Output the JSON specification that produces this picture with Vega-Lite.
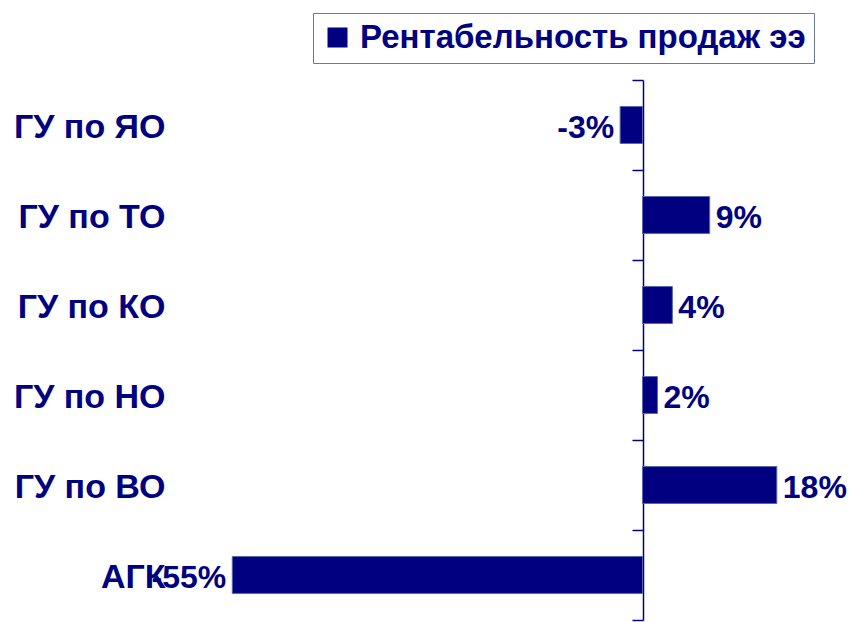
{
  "$schema": "https://vega.github.io/schema/vega-lite/v6.json",
  "autosize": {"type": "none"},
  "padding": {"left": 195, "top": 80, "right": 22, "bottom": 2},
  "width": 634,
  "height": 540,
  "background": "white",
  "config": {"view": {"stroke": null}, "font": "Liberation Sans"},
  "data": {
    "values": [
      {"name": "ГУ по ЯО", "value": -0.03, "label": "-3%", "series": "Рентабельность продаж ээ"},
      {"name": "ГУ по ТО", "value": 0.09, "label": "9%", "series": "Рентабельность продаж ээ"},
      {"name": "ГУ по КО", "value": 0.04, "label": "4%", "series": "Рентабельность продаж ээ"},
      {"name": "ГУ по НО", "value": 0.02, "label": "2%", "series": "Рентабельность продаж ээ"},
      {"name": "ГУ по ВО", "value": 0.18, "label": "18%", "series": "Рентабельность продаж ээ"},
      {"name": "АГК", "value": -0.55, "label": "-55%", "series": "Рентабельность продаж ээ"}
    ]
  },
  "encoding": {
    "y": {
      "field": "name",
      "type": "nominal",
      "sort": null,
      "scale": {"paddingInner": 0, "paddingOuter": 0},
      "axis": {
        "title": null,
        "offset": -448,
        "domainColor": "#000080",
        "domainWidth": 1.5,
        "tickColor": "#000080",
        "tickWidth": 1.5,
        "tickSize": 11,
        "tickBand": "extent",
        "labelPadding": 467,
        "labelOffset": 2,
        "labelFontSize": 34,
        "labelFontWeight": "bold",
        "labelColor": "#000080",
        "labelFont": "Liberation Sans",
        "labelLimit": 0
      }
    },
    "x": {
      "field": "value",
      "type": "quantitative",
      "scale": {"domain": [-0.6, 0.25], "nice": false},
      "axis": null
    }
  },
  "layer": [
    {
      "mark": {"type": "bar", "height": {"band": 0.41}, "stroke": "#5566aa", "strokeWidth": 1},
      "encoding": {
        "color": {
          "field": "series",
          "type": "nominal",
          "scale": {"range": ["#000080"]},
          "legend": {
            "title": null,
            "orient": "none",
            "legendX": 118,
            "legendY": -67,
            "symbolType": "square",
            "symbolSize": 400,
            "symbolStrokeWidth": 0,
            "labelFontSize": 33,
            "labelFontWeight": "bold",
            "labelColor": "#000080",
            "labelFont": "Liberation Sans",
            "labelLimit": 0,
            "labelOffset": 6,
            "strokeColor": "#6a7a9a",
            "padding": 8
          }
        }
      }
    },
    {
      "transform": [{"filter": "datum.value >= 0"}],
      "mark": {"type": "text", "align": "left", "baseline": "middle", "dx": 6, "dy": 3, "fontSize": 32, "fontWeight": "bold", "color": "#000080"},
      "encoding": {"text": {"field": "label", "type": "nominal"}}
    },
    {
      "transform": [{"filter": "datum.value < 0"}],
      "mark": {"type": "text", "align": "right", "baseline": "middle", "dx": -6, "dy": 3, "fontSize": 32, "fontWeight": "bold", "color": "#000080"},
      "encoding": {"text": {"field": "label", "type": "nominal"}}
    }
  ]
}
